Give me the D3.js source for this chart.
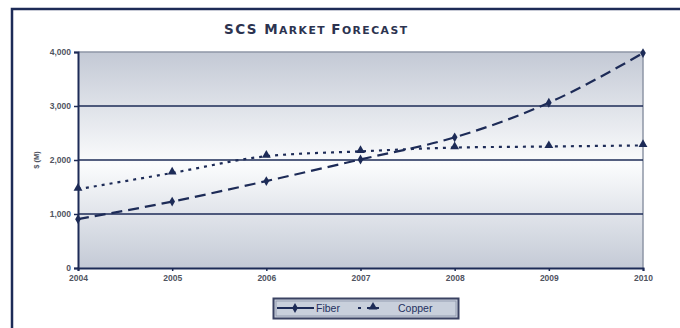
<!DOCTYPE html>
<html>
<head>
<meta charset="utf-8">
<script src="https://cdn.jsdelivr.net/npm/d3@7"></script>
<style>
  html, body { margin: 0; padding: 0; background: #fff; }
  svg { display: block; font-family: "Liberation Sans", Arial, sans-serif; }
</style>
</head>
<body>
<svg id="chart" width="680" height="328"></svg>
<script>
// Market forecast, $ millions per year
const years = [2004, 2005, 2006, 2007, 2008, 2009, 2010];
const fiber = [905, 1230, 1610, 2010, 2420, 3060, 3980];
const copper = [1460, 1760, 2070, 2160, 2230, 2250, 2270];
const yTicks = [0, 1000, 2000, 3000, 4000];
const seriesNames = ["Fiber", "Copper"];

const navy = "#1d2b57";
const labelGrey = "#50545f";
const svg = d3.select("#chart");

const margin = { left: 78, right: 37, top: 52, bottom: 60 };
const W = 680, H = 328;
const x = d3.scaleLinear().domain([2004, 2010]).range([margin.left, W - margin.right]);
const y = d3.scaleLinear().domain([0, 4000]).range([H - margin.bottom, margin.top]);

// Outer frame (top and left edges)
svg.append("path")
  .attr("d", `M12,328 L12,9 L680,9`)
  .attr("fill", "none").attr("stroke", navy).attr("stroke-width", 2.5);

// Plot background gradient
const defs = svg.append("defs");
const grad = defs.append("linearGradient").attr("id", "bg")
  .attr("x1", 0).attr("y1", 0).attr("x2", 0).attr("y2", 1);
grad.append("stop").attr("offset", "0%").attr("stop-color", "#c3c9d5");
grad.append("stop").attr("offset", "52%").attr("stop-color", "#fbfcfd");
grad.append("stop").attr("offset", "100%").attr("stop-color", "#c4cad6");

svg.append("rect")
  .attr("x", x(2004)).attr("y", y(4000))
  .attr("width", x(2010) - x(2004)).attr("height", y(0) - y(4000))
  .attr("fill", "url(#bg)");

// Plot border (top and right in grey)
svg.append("path")
  .attr("d", `M${x(2004)},${y(4000)} L${x(2010)},${y(4000)} L${x(2010)},${y(0)}`)
  .attr("fill", "none").attr("stroke", "#8f96a6").attr("stroke-width", 1.5);

// Horizontal gridlines
svg.append("g").selectAll("line")
  .data(yTicks.filter(t => t > 0 && t < 4000))
  .join("line")
  .attr("x1", x(2004)).attr("x2", x(2010))
  .attr("y1", d => y(d)).attr("y2", d => y(d))
  .attr("stroke", navy).attr("stroke-width", 1.5);

// Axes
const yAxis = d3.axisLeft(y).tickValues(yTicks).tickSize(4).tickPadding(3)
  .tickFormat(d3.format(","));
const gy = svg.append("g").attr("transform", `translate(${x(2004)},0)`).call(yAxis);
gy.select(".domain").attr("stroke", navy).attr("stroke-width", 2);
gy.selectAll(".tick line").attr("stroke", navy).attr("stroke-width", 1.5);
gy.selectAll(".tick text").attr("fill", labelGrey).attr("font-size", 8.5).attr("font-weight", "bold")
  .attr("font-family", "Liberation Sans, Arial, sans-serif");

const xAxis = d3.axisBottom(x).tickValues(years).tickSize(3).tickPadding(4)
  .tickFormat(d3.format("d"));
const gx = svg.append("g").attr("transform", `translate(0,${y(0)})`).call(xAxis);
gx.select(".domain").attr("stroke", navy).attr("stroke-width", 2);
gx.selectAll(".tick line").attr("stroke", navy).attr("stroke-width", 1.5);
gx.selectAll(".tick text").attr("fill", labelGrey).attr("font-size", 8.5).attr("font-weight", "bold")
  .attr("font-family", "Liberation Sans, Arial, sans-serif");

// Y axis title
svg.append("text")
  .attr("transform", `translate(39,${y(2000)}) rotate(-90)`)
  .attr("text-anchor", "middle")
  .attr("font-size", 7.5).attr("font-weight", "bold").attr("fill", labelGrey)
  .text("$ (M)");

// Chart title in small caps
const title = svg.append("text")
  .attr("x", 224).attr("y", 34)
  .attr("textLength", 183).attr("lengthAdjust", "spacing")
  .attr("font-family", "DejaVu Sans, sans-serif")
  .attr("font-weight", "bold").attr("fill", "#2c3350");
[["SCS ", 13.5], ["M", 13.5], ["ARKET ", 10.8], ["F", 13.5], ["ORECAST", 10.8]].forEach(([t, s]) => {
  title.append("tspan").attr("font-size", s).text(t);
});

// Series lines
const line = d3.line().x(d => x(d[0])).y(d => y(d[1])).curve(d3.curveMonotoneX);
const fiberPts = years.map((yr, i) => [yr, fiber[i]]);
const copperPts = years.map((yr, i) => [yr, copper[i]]);

svg.append("path").datum(copperPts).attr("d", line)
  .attr("fill", "none").attr("stroke", navy).attr("stroke-width", 2.2)
  .attr("stroke-dasharray", "3,5");

svg.append("path").datum(fiberPts).attr("d", line)
  .attr("fill", "none").attr("stroke", navy).attr("stroke-width", 2.2)
  .attr("stroke-dasharray", "11,6");

const diamond = d3.symbol().type(d3.symbolDiamond).size(28);
const triangle = d3.symbol().type(d3.symbolTriangle).size(34);

svg.append("g").selectAll("path").data(fiberPts).join("path")
  .attr("transform", d => `translate(${x(d[0])},${y(d[1])})`)
  .attr("d", diamond).attr("fill", navy);

svg.append("g").selectAll("path").data(copperPts).join("path")
  .attr("transform", d => `translate(${x(d[0])},${y(d[1]) - 1})`)
  .attr("d", triangle).attr("fill", navy);

// Legend
const lg = svg.append("g");
lg.append("rect").attr("x", 273.5).attr("y", 298.5).attr("width", 185).attr("height", 20)
  .attr("fill", "#c9d0dc").attr("stroke", "#3a4262").attr("stroke-width", 2);
lg.append("rect").attr("x", 276).attr("y", 301).attr("width", 180).attr("height", 15)
  .attr("fill", "none").attr("stroke", "#8a92a8").attr("stroke-width", 0.8);
lg.append("line").attr("x1", 277).attr("x2", 314).attr("y1", 308).attr("y2", 308)
  .attr("stroke", navy).attr("stroke-width", 2);
lg.append("path").attr("transform", "translate(295,308)").attr("d", diamond).attr("fill", navy);
lg.append("text").attr("x", 316).attr("y", 312).attr("font-size", 10.5).attr("fill", "#243060")
  .text(seriesNames[0]);
lg.append("line").attr("x1", 358).attr("x2", 382).attr("y1", 308).attr("y2", 308)
  .attr("stroke", navy).attr("stroke-width", 2).attr("stroke-dasharray", "3,6");
lg.append("path").attr("transform", "translate(373,307)").attr("d", triangle).attr("fill", navy);
lg.append("text").attr("x", 398).attr("y", 312).attr("font-size", 10.5).attr("fill", "#243060")
  .text(seriesNames[1]);
</script>
</body>
</html>
